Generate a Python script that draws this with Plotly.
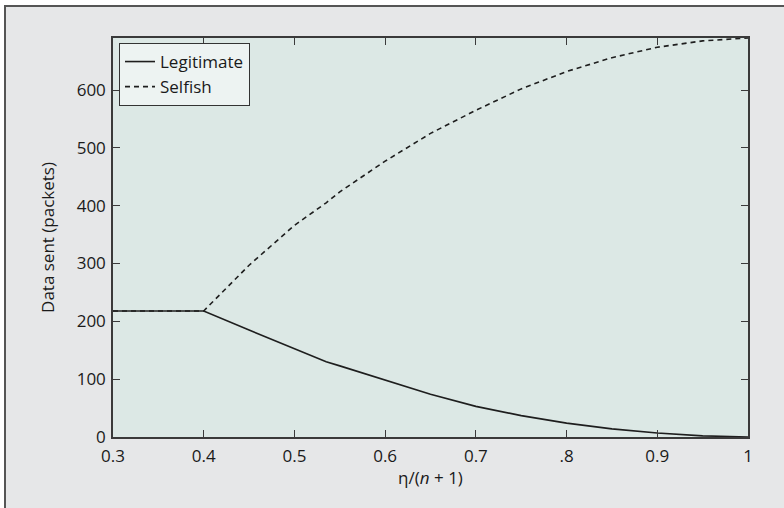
import plotly.graph_objects as go

# Data
x_vals = [0.30, 0.35, 0.40, 0.45, 0.50, 0.535, 0.55, 0.60, 0.65, 0.70, 0.75, 0.80, 0.85, 0.90, 0.95, 1.00]
legitimate = [218, 218, 218, 185, 153, 130, 123, 98, 74, 53, 37, 24, 14, 7, 2, 0]
selfish = [218, 218, 218, 297, 366, 405, 424, 477, 525, 565, 602, 632, 656, 674, 685, 690]

x_tickvals = [0.3, 0.4, 0.5, 0.6, 0.7, 0.8, 0.9, 1.0]
x_ticktext = ["0.3", "0.4", "0.5", "0.6", "0.7", ".8", "0.9", "1"]
y_tickvals = [0, 100, 200, 300, 400, 500, 600]

W, H = 784, 508
L, R, T, B = 113, 36, 38, 71
pw, ph = W - L - R, H - T - B

def px_x(p):
    return (p - L) / pw

def px_y(p):
    return (H - B - p) / ph

FONT = "Open Sans"
AX = "#3a3a3a"

fig = go.Figure()
fig.add_trace(go.Scatter(x=x_vals, y=legitimate, mode="lines", name="Legitimate",
                         line=dict(color="#1e1e1e", width=1.6)))
fig.add_trace(go.Scatter(x=x_vals, y=selfish, mode="lines", name="Selfish",
                         line=dict(color="#1e1e1e", width=1.6, dash="5px,4px")))

shapes = [
    dict(type="rect", xref="paper", yref="paper", layer="below",
         x0=px_x(5), x1=px_x(800), y0=px_y(6), y1=px_y(520),
         fillcolor="#e6e7e8", line=dict(color="#555555", width=2)),
    dict(type="rect", xref="paper", yref="paper", layer="below",
         x0=0, x1=1, y0=0, y1=1, fillcolor="#dce8e5", line=dict(width=0)),
]

fig.update_layout(
    width=W, height=H,
    margin=dict(l=L, r=R, t=T, b=B, pad=0),
    paper_bgcolor="white",
    plot_bgcolor="rgba(0,0,0,0)",
    font=dict(family=FONT, size=17, color="#1a1a1a"),
    shapes=shapes,
    showlegend=True,
    legend=dict(x=px_x(119), y=px_y(43), xanchor="left", yanchor="top",
                bgcolor="#edf3f2", bordercolor="#333333", borderwidth=1,
                font=dict(family=FONT, size=17, color="#1a1a1a"),
                tracegroupgap=0, itemwidth=30),
    xaxis=dict(range=[0.3, 1.0], tickvals=x_tickvals, ticktext=x_ticktext,
               ticks="inside", ticklen=7, tickcolor=AX, tickwidth=1.2,
               showline=True, linecolor=AX, linewidth=1.5, mirror="allticks",
               showgrid=False, zeroline=False, ticklabelstandoff=3,
               tickfont=dict(family=FONT, size=17),
               title=dict(text="η/(<i>n</i> + 1)", font=dict(family=FONT, size=17), standoff=6),
               automargin=False),
    yaxis=dict(range=[0, 690], tickvals=y_tickvals,
               ticks="inside", ticklen=7, tickcolor=AX, tickwidth=1.2,
               showline=True, linecolor=AX, linewidth=1.5, mirror="allticks",
               showgrid=False, zeroline=False, ticklabelstandoff=2,
               tickfont=dict(family=FONT, size=17),
               title=dict(text="Data sent (packets)", font=dict(family=FONT, size=17), standoff=18),
               automargin=False),
)

fig.write_html("out.html")
